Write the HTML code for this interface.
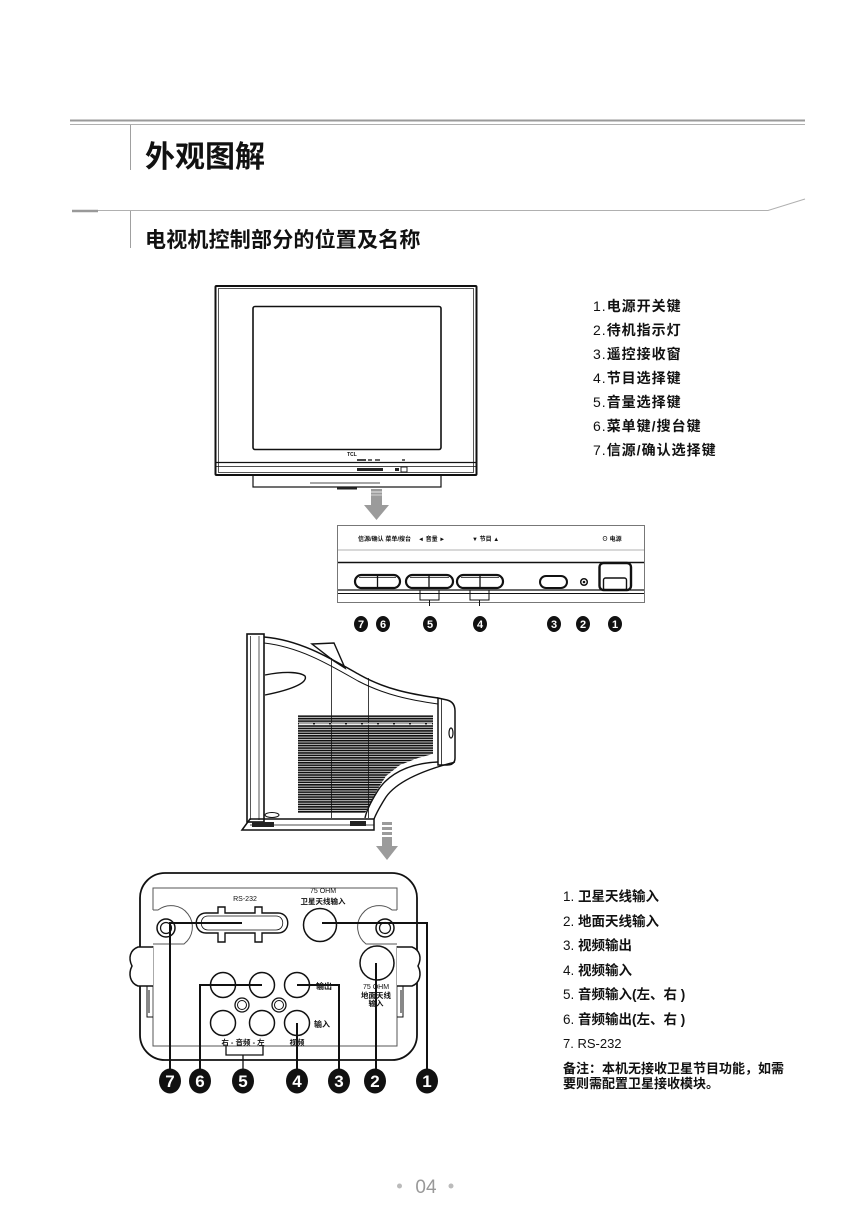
<!DOCTYPE html>
<html><head><meta charset="utf-8"><style>
html,body{margin:0;padding:0;background:#fff;}
svg{display:block;}
text{font-family:"Liberation Sans","Noto Sans CJK SC",sans-serif;}
.cjk{font-family:"Liberation Sans","Noto Sans CJK SC",sans-serif;}
</style></head><body>
<svg width="852" height="1231" viewBox="0 0 852 1231" xmlns="http://www.w3.org/2000/svg">
<defs>
<pattern id="gr" width="10" height="2.45" patternUnits="userSpaceOnUse">
<rect x="0" y="0" width="10" height="1.7" fill="#111"/>
</pattern>
<clipPath id="gc"><polygon points="298,715 433,715 433,754 418,758 400,765 386,776 376,792 368,808 365,813 298,813"/></clipPath>
</defs>

<!-- Header -->
<line x1="70" y1="120.5" x2="805" y2="120.5" stroke="#9a9a9a" stroke-width="2"/>
<line x1="70" y1="124.5" x2="805" y2="124.5" stroke="#b0b0b0" stroke-width="1"/>
<line x1="130.5" y1="125" x2="130.5" y2="170" stroke="#a0a0a0" stroke-width="1"/>
<text x="145" y="167" font-size="30" font-weight="bold" fill="#111" class="cjk">外观图解</text>

<line x1="72" y1="211" x2="98" y2="211" stroke="#999" stroke-width="2.5"/>
<polyline points="98,210.5 768,210.5 805,199" fill="none" stroke="#b0b0b0" stroke-width="1"/>
<line x1="130.5" y1="211" x2="130.5" y2="248" stroke="#a0a0a0" stroke-width="1"/>
<text x="145" y="247" font-size="21" font-weight="bold" fill="#111" class="cjk" letter-spacing="0.2">电视机控制部分的位置及名称</text>

<!-- TV front -->
<g fill="none" stroke="#111">
<rect x="215.5" y="286" width="261" height="189" stroke-width="2" rx="1"/>
<rect x="218.5" y="288.5" width="255" height="184" stroke-width="0.7"/>
<rect x="253" y="306.5" width="188" height="143" stroke-width="1.6" rx="2"/>
<line x1="216" y1="462.5" x2="476" y2="462.5" stroke-width="1.2"/>
<line x1="216" y1="466.5" x2="476" y2="466.5" stroke-width="0.8"/>
<rect x="253" y="475" width="188" height="12" stroke-width="1.2"/>
<line x1="310" y1="483" x2="380" y2="483" stroke-width="0.8"/>
</g>
<rect x="337" y="487" width="20" height="2.5" fill="#222"/>
<text x="352" y="456" font-size="5" font-weight="bold" text-anchor="middle" fill="#111">TCL</text>
<rect x="357" y="459" width="9" height="2" fill="#444"/>
<rect x="368" y="459" width="4" height="2" fill="#666"/>
<rect x="375" y="459" width="5" height="2" fill="#666"/>
<rect x="402" y="459" width="3" height="2" fill="#666"/>
<rect x="357" y="468" width="26" height="3" fill="#222"/>
<rect x="395" y="468" width="4" height="3" fill="#222"/>
<rect x="401" y="467" width="6" height="5" fill="none" stroke="#222" stroke-width="1"/>
<!-- arrow 1 -->
<rect x="371" y="489" width="11" height="17" fill="#9b9b9b"/>
<line x1="371" y1="492" x2="382" y2="492" stroke="#fff" stroke-width="0.8"/>
<line x1="371" y1="495" x2="382" y2="495" stroke="#fff" stroke-width="0.6"/>
<polygon points="364,505 389,505 376.5,520" fill="#9b9b9b"/>

<!-- List 1 -->
<g font-size="14" fill="#111" letter-spacing="1">
<text x="593" y="311">1.<tspan font-weight="bold">电源开关键</tspan></text>
<text x="593" y="335">2.<tspan font-weight="bold">待机指示灯</tspan></text>
<text x="593" y="359">3.<tspan font-weight="bold">遥控接收窗</tspan></text>
<text x="593" y="383">4.<tspan font-weight="bold">节目选择键</tspan></text>
<text x="593" y="407">5.<tspan font-weight="bold">音量选择键</tspan></text>
<text x="593" y="431">6.<tspan font-weight="bold">菜单键/搜台键</tspan></text>
<text x="593" y="455">7.<tspan font-weight="bold">信源/确认选择键</tspan></text>
</g>

<!-- Control panel -->
<g fill="none">
<rect x="337.5" y="525.5" width="307" height="77" stroke="#777" stroke-width="1"/>
<line x1="338" y1="550" x2="644" y2="550" stroke="#999" stroke-width="0.8"/>
<line x1="338" y1="562.5" x2="644" y2="562.5" stroke="#111" stroke-width="1.6"/>
<line x1="338" y1="590" x2="644" y2="590" stroke="#111" stroke-width="1.2"/>
<line x1="338" y1="593.5" x2="644" y2="593.5" stroke="#111" stroke-width="1"/>
<g stroke="#111">
<rect x="355" y="575" width="45" height="13" rx="6.5" stroke-width="2.2"/>
<line x1="359" y1="577.5" x2="396" y2="577.5" stroke-width="0.8"/>
<line x1="377.5" y1="576" x2="377.5" y2="587" stroke-width="1.3"/>
<rect x="406" y="575" width="47" height="13" rx="6.5" stroke-width="2.2"/>
<line x1="410" y1="577.5" x2="449" y2="577.5" stroke-width="0.8"/>
<line x1="429" y1="576" x2="429" y2="587" stroke-width="1.3"/>
<rect x="457" y="575" width="46" height="13" rx="6.5" stroke-width="2.2"/>
<line x1="461" y1="577.5" x2="499" y2="577.5" stroke-width="0.8"/>
<line x1="480" y1="576" x2="480" y2="587" stroke-width="1.3"/>
<rect x="540" y="576" width="27" height="12" rx="6" stroke-width="2"/>
<circle cx="584" cy="582" r="3.3" stroke-width="1.5"/>
<rect x="599.5" y="563" width="31.5" height="27" rx="4" stroke-width="2.4"/>
<rect x="603.5" y="578" width="23" height="12" rx="2" stroke-width="1.4"/>
<path d="M420,590 V600 H439 V590 M429.5,600 V606" stroke-width="1"/>
<path d="M470,590 V600 H489 V590 M479.5,600 V606" stroke-width="1"/>
</g>
</g>
<circle cx="584" cy="582" r="1.3" fill="#111"/>
<g font-size="6" font-weight="bold" fill="#111">
<text x="358" y="541">信源/确认 菜单/搜台</text>
<text x="418" y="541">◄ 音量 ►</text>
<text x="472" y="541">▼ 节目 ▲</text>
<text x="602" y="541">⊙ 电源</text>
</g>
<g fill="#111">
<ellipse cx="361" cy="624" rx="7" ry="8"/>
<ellipse cx="383" cy="624" rx="7" ry="8"/>
<ellipse cx="430" cy="624" rx="7" ry="8"/>
<ellipse cx="480" cy="624" rx="7" ry="8"/>
<ellipse cx="554" cy="624" rx="7" ry="8"/>
<ellipse cx="583" cy="624" rx="7" ry="8"/>
<ellipse cx="615" cy="624" rx="7" ry="8"/>
</g>
<g font-size="11" font-weight="bold" fill="#fff" text-anchor="middle">
<text x="361" y="628">7</text><text x="383" y="628">6</text><text x="430" y="628">5</text>
<text x="480" y="628">4</text><text x="554" y="628">3</text><text x="583" y="628">2</text>
<text x="615" y="628">1</text>
</g>

<!-- Side view -->
<g fill="none" stroke="#111">
<rect x="247" y="634" width="17" height="188" stroke-width="1.6"/>
<line x1="250.5" y1="636" x2="250.5" y2="820" stroke-width="0.7"/>
<line x1="259" y1="636" x2="259" y2="820" stroke-width="0.7"/>
<path d="M264,637 C300,640 330,658 360,675 C385,689 410,694 438,698" stroke-width="1.5"/>
<path d="M264,643 C300,647 330,665 358,681 C385,695 410,700 438,704" stroke-width="1"/>
<path d="M312,644 L334,643 L345,668 L334,661 Z" stroke-width="1.4"/>
<path d="M438,698 L447,700 Q455,702 455,711 L455,758 Q455,765 447,765 L438,765 Z" stroke-width="1.5"/>
<line x1="441.5" y1="699" x2="441.5" y2="765" stroke-width="0.8"/>
<ellipse cx="451" cy="733" rx="2" ry="5" stroke-width="1.2"/>
<path d="M438,762 C408,763 387,775 377,792 C369,805 366,813 365,818" stroke-width="1.4"/>
<path d="M455,762 C428,769 398,780 386,797 C379,808 376,814 374,819" stroke-width="1.4"/>
<line x1="331.5" y1="658" x2="331.5" y2="818" stroke-width="0.8"/>
<line x1="368.5" y1="678" x2="368.5" y2="818" stroke-width="0.8"/>
<path d="M265,675 C285,671 300,672 305,676 C308,682 295,689 265,695" stroke-width="1.4"/>
<path d="M242,830 L250,819 H374 V830 Z" stroke-width="1.5"/>
<line x1="250" y1="825" x2="374" y2="825" stroke-width="0.7"/>
<ellipse cx="272" cy="815" rx="7" ry="2.5" stroke-width="1"/>
</g>
<rect x="298" y="715" width="136" height="98" fill="url(#gr)" clip-path="url(#gc)"/>
<line x1="299" y1="724" x2="432" y2="724" stroke="#fff" stroke-width="1.2" stroke-dasharray="14,2"/>
<rect x="252" y="822" width="22" height="5" fill="#222"/>
<rect x="350" y="821" width="16" height="5" fill="#222"/>
<!-- arrow 2 -->
<g fill="#9b9b9b">
<rect x="382" y="822" width="10" height="3"/>
<rect x="382" y="827" width="10" height="3"/>
<rect x="382" y="832" width="10" height="3"/>
<rect x="382" y="837" width="10" height="10"/>
<polygon points="376,846 398,846 387,860"/>
</g>

<!-- Back panel -->
<g fill="none" stroke="#111">
<rect x="140" y="873" width="277" height="187" rx="25" stroke-width="1.8"/>
<path d="M153,910 V888 H397 V910" stroke="#555" stroke-width="1"/>
<path d="M153,910 H158 A20,20 0 0,1 184,944 H153" stroke="#555" stroke-width="1"/>
<path d="M397,910 H392 A20,20 0 0,0 366,944 H397" stroke="#555" stroke-width="1"/>
<path d="M153,946 V1046 H397 V946" stroke="#555" stroke-width="1"/>
<circle cx="166" cy="928" r="9" stroke-width="1.5"/>
<circle cx="166" cy="928" r="5.5" stroke-width="1.2"/>
<circle cx="385" cy="928" r="9" stroke-width="1.5"/>
<circle cx="385" cy="928" r="5.5" stroke-width="1.2"/>
<path d="M153,947 H138 C130,950 128,958 132,966 C128,974 130,983 138,986 H153" stroke-width="1.5" fill="#fff"/>
<path d="M397,947 H412 C420,950 422,958 418,966 C422,974 420,983 412,986 H397" stroke-width="1.5" fill="#fff"/>
<path d="M153,986 H147 V1017 H153 M149,990 V1013" stroke-width="1"/>
<path d="M397,986 H403 V1017 H397 M401,990 V1013" stroke-width="1"/>
<path d="M206,913 H218 V907 H225 V913 H255 V907 H262 V913 H278 C291,913 291,933 278,933 H262 V942 H255 V933 H225 V942 H218 V933 H206 C193,933 193,913 206,913 Z" stroke-width="1.4"/>
<path d="M208,916 H276 C285,916 285,930 276,930 H208 C199,930 199,916 208,916 Z" stroke-width="0.8"/>
<circle cx="320" cy="925" r="16.5" stroke-width="1.5"/>
<circle cx="377" cy="963" r="17" stroke-width="1.5"/>
<circle cx="223" cy="985" r="12.5" stroke-width="1.5"/>
<circle cx="262" cy="985" r="12.5" stroke-width="1.5"/>
<circle cx="297" cy="985" r="12.5" stroke-width="1.5"/>
<circle cx="223" cy="1023" r="12.5" stroke-width="1.5"/>
<circle cx="262" cy="1023" r="12.5" stroke-width="1.5"/>
<circle cx="297" cy="1023" r="12.5" stroke-width="1.5"/>
<circle cx="242" cy="1005" r="7" stroke-width="1.3"/>
<circle cx="242" cy="1005" r="4.5" stroke-width="1"/>
<circle cx="279" cy="1005" r="7" stroke-width="1.3"/>
<circle cx="279" cy="1005" r="4.5" stroke-width="1"/>
</g>
<g fill="#111" font-size="7" text-anchor="middle">
<text x="245" y="901">RS-232</text>
<text x="323" y="893">75 OHM</text>
<text x="323" y="904" font-weight="bold" font-size="7.5">卫星天线输入</text>
<text x="376" y="989">75 OHM</text>
<text x="376" y="998" font-weight="bold" font-size="7.5">地面天线</text>
<text x="376" y="1006" font-weight="bold" font-size="7.5">输入</text>
<text x="324" y="989" font-weight="bold" font-size="8">输出</text>
<text x="322" y="1027" font-weight="bold" font-size="8">输入</text>
<text x="243" y="1045" font-weight="bold" font-size="7.5">右 - 音频 - 左</text>
<text x="297" y="1045" font-weight="bold" font-size="7.5">视频</text>
</g>
<g fill="none" stroke="#111" stroke-width="2">
<path d="M242,923 H170 V1070"/>
<path d="M322,923 H427 V1070"/>
<path d="M262,985 H200 V1070"/>
<path d="M297,985 H339 V1070"/>
<path d="M376,963 V1070"/>
<path d="M297,1023 V1070"/>
<path d="M226,1046 V1055 H263 V1046 M243,1055 V1070" stroke-width="1.3"/>
</g>
<g fill="#111">
<ellipse cx="170" cy="1081" rx="11" ry="12.5"/>
<ellipse cx="200" cy="1081" rx="11" ry="12.5"/>
<ellipse cx="243" cy="1081" rx="11" ry="12.5"/>
<ellipse cx="297" cy="1081" rx="11" ry="12.5"/>
<ellipse cx="339" cy="1081" rx="11" ry="12.5"/>
<ellipse cx="375" cy="1081" rx="11" ry="12.5"/>
<ellipse cx="427" cy="1081" rx="11" ry="12.5"/>
</g>
<g font-size="17" font-weight="bold" fill="#fff" text-anchor="middle">
<text x="170" y="1087">7</text><text x="200" y="1087">6</text><text x="243" y="1087">5</text>
<text x="297" y="1087">4</text><text x="339" y="1087">3</text><text x="375" y="1087">2</text>
<text x="427" y="1087">1</text>
</g>

<!-- List 2 -->
<g font-size="13.5" fill="#111">
<text x="563" y="901">1. <tspan font-weight="bold">卫星天线输入</tspan></text>
<text x="563" y="926">2. <tspan font-weight="bold">地面天线输入</tspan></text>
<text x="563" y="950">3. <tspan font-weight="bold">视频输出</tspan></text>
<text x="563" y="975">4. <tspan font-weight="bold">视频输入</tspan></text>
<text x="563" y="999">5. <tspan font-weight="bold">音频输入(左、右 )</tspan></text>
<text x="563" y="1024">6. <tspan font-weight="bold">音频输出(左、右 )</tspan></text>
<text x="563" y="1048" font-size="13">7. RS-232</text>
<text x="563" y="1073" font-size="13" font-weight="bold">备注：本机无接收卫星节目功能，如需</text>
<text x="563" y="1088" font-size="13" font-weight="bold">要则需配置卫星接收模块。</text>
</g>

<!-- page number -->
<circle cx="399.5" cy="1186" r="2.5" fill="#bbb"/>
<circle cx="451" cy="1186" r="2.5" fill="#bbb"/>
<text x="426" y="1193" font-size="19" fill="#999" text-anchor="middle">04</text>
</svg>
</body></html>
